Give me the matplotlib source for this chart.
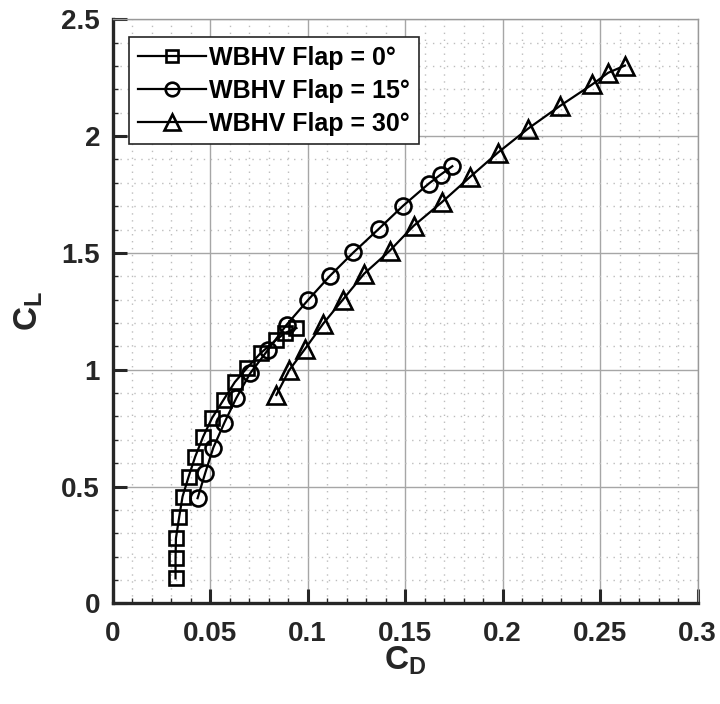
import matplotlib
matplotlib.use("Agg")
import matplotlib.pyplot as plt
from matplotlib.ticker import MultipleLocator

plt.rcParams['font.family'] = ['Liberation Sans', 'DejaVu Sans']
plt.rcParams['mathtext.fontset'] = 'custom'
plt.rcParams['mathtext.rm'] = 'Liberation Sans:bold'
plt.rcParams['mathtext.bf'] = 'Liberation Sans:bold'
plt.rcParams['mathtext.it'] = 'Liberation Sans:bold'

# Drag polar data: flap 0 deg
cd_flap0 = [0.0323, 0.0323, 0.0325, 0.0342, 0.0359, 0.0390, 0.0424, 0.0465,
            0.0510, 0.0569, 0.0627, 0.0689, 0.0759, 0.0840, 0.0883, 0.0943]
cl_flap0 = [0.107, 0.193, 0.278, 0.371, 0.457, 0.542, 0.628, 0.714,
            0.793, 0.871, 0.947, 1.007, 1.071, 1.128, 1.157, 1.178]

# flap 15 deg
cd_flap15 = [0.0436, 0.0476, 0.0517, 0.0574, 0.0634, 0.0706, 0.0797, 0.0892,
             0.1003, 0.1115, 0.1235, 0.1364, 0.1490, 0.1622, 0.1682, 0.1742]
cl_flap15 = [0.450, 0.560, 0.667, 0.774, 0.878, 0.985, 1.085, 1.192,
             1.299, 1.402, 1.502, 1.602, 1.702, 1.797, 1.835, 1.871]

# flap 30 deg
cd_flap30 = [0.0840, 0.0905, 0.0986, 0.1080, 0.1180, 0.1290, 0.1421, 0.1544,
             0.1687, 0.1833, 0.1974, 0.2129, 0.2292, 0.2459, 0.2541, 0.2627]
cl_flap30 = [0.892, 0.997, 1.088, 1.197, 1.299, 1.411, 1.509, 1.616,
             1.716, 1.825, 1.928, 2.031, 2.128, 2.221, 2.271, 2.302]

labels = ['WBHV Flap = 0°', 'WBHV Flap = 15°', 'WBHV Flap = 30°']

x_ticks = [0, 0.05, 0.1, 0.15, 0.2, 0.25, 0.3]
x_ticklabels = ['0', '0.05', '0.1', '0.15', '0.2', '0.25', '0.3']
y_ticks = [0, 0.5, 1, 1.5, 2, 2.5]
y_ticklabels = ['0', '0.5', '1', '1.5', '2', '2.5']

dark = '#262626'

fig = plt.figure(figsize=(7.2, 7.04), dpi=100)
ax = fig.add_axes([0.1563, 0.1430, 0.8127, 0.8296])

ax.plot(cd_flap0, cl_flap0, color='black', lw=1.6, marker='s', ms=9.5,
        mfc='none', mec='black', mew=1.9, label=labels[0], zorder=3)
ax.plot(cd_flap15, cl_flap15, color='black', lw=1.6, marker='o', ms=11.5,
        mfc='none', mec='black', mew=1.9, label=labels[1], zorder=3)
ax.plot(cd_flap30, cl_flap30, color='black', lw=1.6, marker='^', ms=13,
        mfc='none', mec='black', mew=1.9, label=labels[2], zorder=3)

ax.set_xlim(0, 0.3)
ax.set_ylim(0, 2.5)
ax.set_xticks(x_ticks)
ax.set_xticklabels(x_ticklabels)
ax.set_yticks(y_ticks)
ax.set_yticklabels(y_ticklabels)
ax.xaxis.set_minor_locator(MultipleLocator(0.01))
ax.yaxis.set_minor_locator(MultipleLocator(0.1))

ax.grid(which='major', color='#a6a6a6', lw=1.0, ls='-')
ax.grid(which='minor', color='#bdbdbd', lw=1.0, ls=(0, (1, 4)))
ax.set_axisbelow(True)

ax.tick_params(which='major', direction='in', length=10, width=2.2,
               color=dark, labelsize=20, labelcolor=dark)
ax.tick_params(axis='x', which='major', pad=13)
ax.tick_params(axis='y', which='major', pad=9)
ax.tick_params(which='minor', direction='in', length=3.5, width=1.0, color=dark)
ax.tick_params(top=False, right=False, which='both')
for lab in ax.get_xticklabels() + ax.get_yticklabels():
    lab.set_fontweight('bold')

for side in ['left', 'bottom']:
    ax.spines[side].set_linewidth(2.4)
    ax.spines[side].set_color(dark)
for side in ['top', 'right']:
    ax.spines[side].set_linewidth(1.0)
    ax.spines[side].set_color('#999999')

ax.set_xlabel(r'$\mathbf{C_D}$', fontsize=24, color=dark, labelpad=-2)
ax.set_ylabel(r'$\mathbf{C_L}$', fontsize=24, color=dark, labelpad=12)

leg = ax.legend(loc='upper left', bbox_to_anchor=(0.0287, 0.969),
                borderaxespad=0, fancybox=False, framealpha=1,
                edgecolor=dark, handlelength=2.7, handletextpad=0.15,
                labelspacing=0.35, borderpad=0.35,
                prop={'weight': 'bold', 'size': 18})
leg.get_frame().set_linewidth(1.2)
for h in leg.legend_handles:
    h.set_markersize(h.get_markersize() * 0.85)

fig.savefig('out.png', dpi=100)
